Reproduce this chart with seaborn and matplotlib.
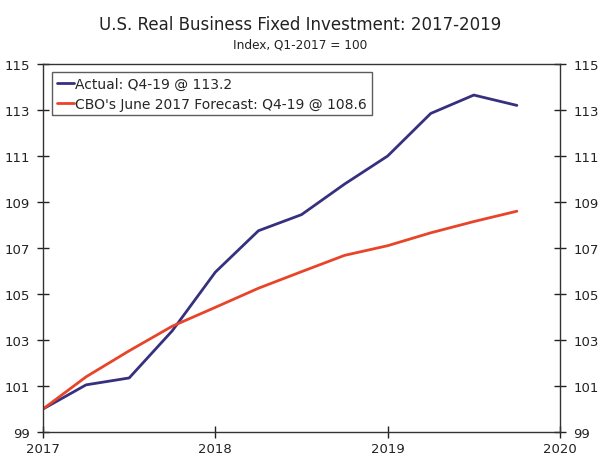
import numpy as np
import pandas as pd
import matplotlib
matplotlib.use("Agg")
import matplotlib.pyplot as plt
import seaborn as sns

# quarterly index values, Q1-2017 = 100
quarters = [2017.0, 2017.25, 2017.5, 2017.75, 2018.0, 2018.25, 2018.5, 2018.75,
            2019.0, 2019.25, 2019.5, 2019.75]
actual = [100.0, 101.05, 101.35, 103.4, 105.95, 107.75, 108.45, 109.78,
          111.0, 112.85, 113.65, 113.2]
cbo_forecast = [100.0, 101.4, 102.53, 103.6, 104.42, 105.25, 105.97, 106.68,
                107.1, 107.66, 108.15, 108.6]
series_names = ["Actual: Q4-19 @ 113.2", "CBO's June 2017 Forecast: Q4-19 @ 108.6"]
x_ticks = [2017, 2018, 2019, 2020]
y_ticks = [99, 101, 103, 105, 107, 109, 111, 113, 115]

df = pd.DataFrame({
    "quarter": quarters * 2,
    "value": actual + cbo_forecast,
    "series": [series_names[0]] * len(quarters) + [series_names[1]] * len(quarters),
})

sns.set_style("white")
plt.rcParams["font.family"] = ["DejaVu Sans"]

fig = plt.figure(figsize=(6, 4.6), dpi=100)
ax = fig.add_axes([0.0717, 0.0587, 0.8616, 0.8])

sns.lineplot(data=df, x="quarter", y="value", hue="series",
             palette=["#36317e", "#e8442a"], linewidth=2, ax=ax)

ax.set_xlim(2017, 2020)
ax.set_ylim(99, 115)
ax.set_xticks(x_ticks)
ax.set_yticks(y_ticks)
ax.set_xlabel("")
ax.set_ylabel("")
ax.tick_params(axis="both", direction="inout", length=9, width=1, colors="#222222",
               labelsize=9.5)
ax.tick_params(axis="y", right=True, labelright=True, left=True, pad=5)
ax.tick_params(axis="x", bottom=True, pad=3)
for s in ax.spines.values():
    s.set_visible(True)
    s.set_color("#333333")
    s.set_linewidth(1)

leg = ax.legend(loc="upper left", bbox_to_anchor=(0.0174, 0.978), fontsize=10,
                frameon=True, fancybox=False, handlelength=1.2, handletextpad=0.1,
                borderpad=0.35, labelspacing=0.4, borderaxespad=0)
leg.get_frame().set_edgecolor("#333333")
leg.get_frame().set_linewidth(1)

fig.text(0.5, 0.946, "U.S. Real Business Fixed Investment: 2017-2019",
         ha="center", va="center", fontsize=12, color="#222222")
fig.text(0.5, 0.902, "Index, Q1-2017 = 100", ha="center", va="center",
         fontsize=8.7, color="#222222")

fig.savefig("out.png", dpi=100)
